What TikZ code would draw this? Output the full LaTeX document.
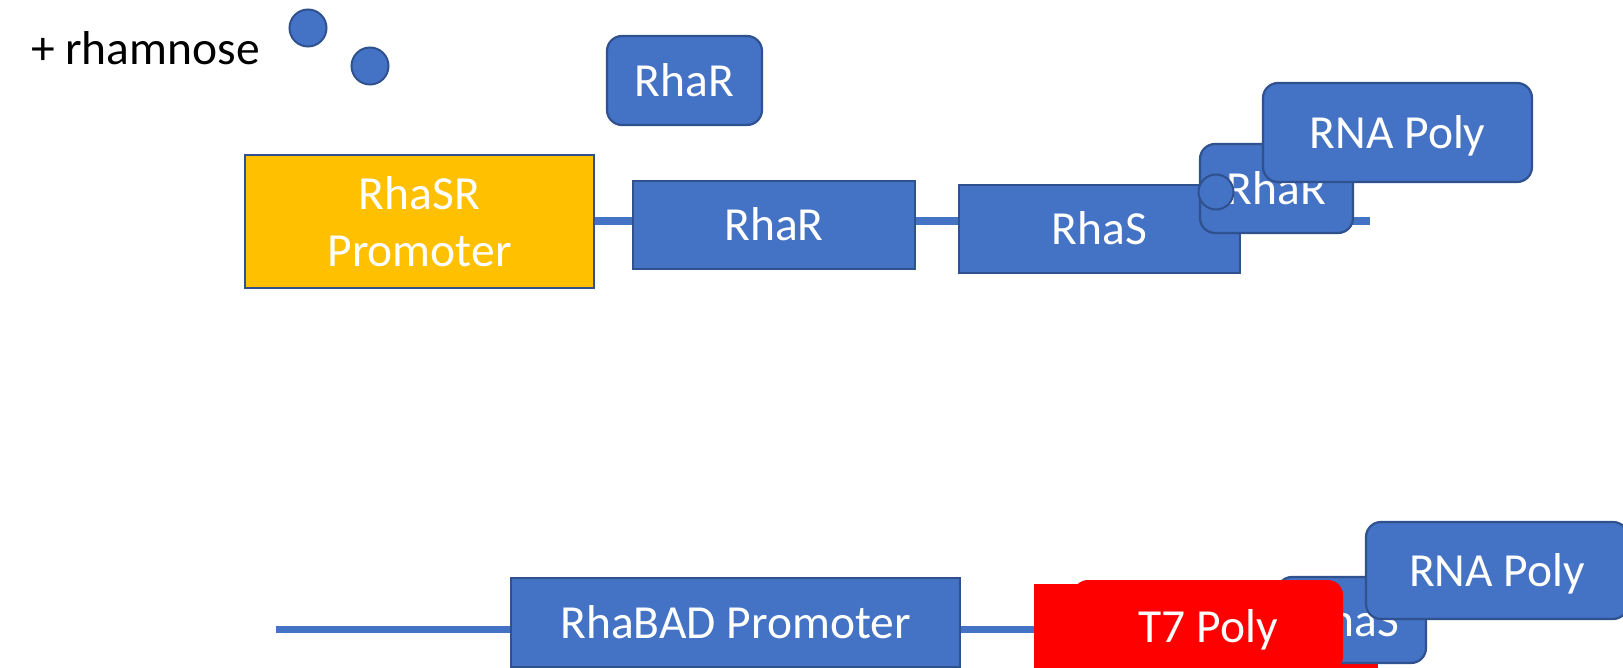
\documentclass[tikz,border=0pt]{standalone}
\usepackage{fontspec}
\setmainfont{Carlito}
\definecolor{boxblue}{HTML}{4472C4}
\definecolor{edgeblue}{HTML}{2F528F}
\definecolor{promyellow}{HTML}{FFC000}
\definecolor{polred}{HTML}{FF0000}
\pgfdeclarelayer{background}
\pgfsetlayers{background,main}
\begin{document}
\begin{tikzpicture}[x=1pt,y=-1pt,
  every node/.style={inner sep=0pt, outer sep=0pt, font=\fontsize{47.5}{57}\selectfont},
  boxbase/.style={draw=edgeblue, line width=2.2pt, fill=boxblue, text=white},
  onerow/.style={text height=34pt, text depth=2pt},
  gene/.style={boxbase, onerow, rectangle},
  protein/.style={boxbase, onerow, rectangle, rounded corners=15pt},
  promoterbox/.style={boxbase, fill=promyellow, align=center},
  sugar/.style={circle, draw=edgeblue, line width=2pt, fill=boxblue, minimum size=37pt},
  t7shape/.style={fill=polred, text=white, onerow},
  dna/.style={draw=boxblue, line width=8pt}]

\path[use as bounding box, clip] (0,0) rectangle (1623,668);

% ---- rhamnose added to the cell
\node[anchor=base west] (rhamnose) at (31,65) {+ rhamnose};
\node[sugar] (sugarA) at (308,28) {};
\node[sugar] (sugarB) at (370,66) {};

% ---- free activator
\node[protein, minimum width=155pt, minimum height=89pt] (freeRhaR) at (684.5,80.5) {RhaR};

% ---- rhaSR operon
\node[promoterbox, minimum width=349pt, minimum height=133pt] (rhasrProm) at (419.5,221.5) {RhaSR\\Promoter};
\node[gene, minimum width=282pt, minimum height=88pt] (rharGene) at (774,225) {RhaR};
\node[gene, minimum width=281pt, minimum height=88pt] (rhasGene) at (1099.5,229) {RhaS};
\node[protein, minimum width=153pt, minimum height=89pt] (boundRhaR) at (1276.5,188.5) {RhaR};
\node[sugar, minimum size=35pt] (boundSugar) at (1216,192) {};
\node[protein, minimum width=269pt, minimum height=99pt] (rnapTop) at (1397.5,132.5) {RNA Poly};
\coordinate (topEnd) at (1370,221);

% ---- rhaBAD promoter driving T7 polymerase
\coordinate (botStart) at (276,629.5);
\node[gene, minimum width=449pt, minimum height=89pt] (badProm) at (735.5,622.5) {RhaBAD Promoter};
\node[fill=polred, minimum width=344pt, minimum height=126pt] (t7Gene) at (1206,647) {};
\node[protein, minimum width=149pt, minimum height=86pt] (boundRhaS) at (1351.5,620) {RhaS};
\node[t7shape, rounded corners=15pt, minimum width=270pt, minimum height=92pt] (t7Poly) at (1208,626) {T7 Poly};
\node[protein, minimum width=262pt, minimum height=97pt] (rnapBot) at (1497,570.5) {RNA Poly};

% ---- DNA strands behind the parts
\begin{pgfonlayer}{background}
  \draw[dna] (rhasrProm.east |- topEnd) -- (topEnd);
  \draw[dna, line width=7.5pt] (botStart) -- (t7Gene.west |- botStart);
\end{pgfonlayer}
\end{tikzpicture}
\end{document}
